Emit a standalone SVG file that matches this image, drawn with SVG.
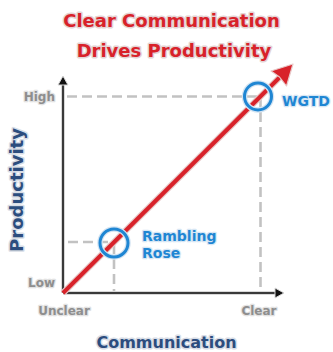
<svg xmlns="http://www.w3.org/2000/svg" width="333" height="352" viewBox="0 0 333 352">
<defs>
<style>
text{font-family:"DejaVu Sans","Verdana",sans-serif;font-weight:bold;paint-order:stroke;stroke-linejoin:round}
.title{font-size:18px;fill:#d8222a;stroke:#e4d4d4;stroke-width:3}
.axis-title{font-size:16px;fill:#2c4d7e;stroke:#d8dde6;stroke-width:3}
.tick{font-size:12px;fill:#8e8e8e;stroke:#e2e2e2;stroke-width:2.5}
.pt{font-size:14px;fill:#1f86d3;stroke:#d6e6f4;stroke-width:2.5}
.dash{fill:none;stroke:#c2c2c2;stroke-width:2.6;stroke-dasharray:10 5}
.axis-bg{stroke:#d8d8d8;stroke-width:4;fill:none}
.axis{stroke:#3a3a3a;stroke-width:2;fill:none}
.ring-bg{fill:none;stroke:#d4e4f2;stroke-width:5.5}
.ring{fill:none;stroke:#1f86d3;stroke-width:3}
</style>
</defs>
<g id="title">
<text class="title" x="171.5" y="27" text-anchor="middle">Clear Communication</text>
<text class="title" x="174" y="57" text-anchor="middle">Drives Productivity</text>
</g>
<g id="guides">
<line class="dash" x1="67" y1="96.5" x2="258" y2="96.5"/>
<line class="dash" x1="260.5" y1="97" x2="260.5" y2="291"/>
<line class="dash" x1="68" y1="242" x2="112" y2="242"/>
<line class="dash" x1="114" y1="244" x2="114" y2="291"/>
</g>
<g id="axes">
<path class="axis-bg" d="M63 293 V82 M63 293 H278"/>
<path class="axis" d="M63 293 V82 M63 293 H278"/>
<polygon points="63,76 58,85 68,85" fill="#111" stroke="#d8d8d8" stroke-width="1"/>
<polygon points="284,293 275,288 275,298" fill="#111" stroke="#d8d8d8" stroke-width="1"/>
</g>
<g id="connectors">
<line x1="63" y1="293" x2="281" y2="76" stroke="#e8c8c8" stroke-width="6.5"/>
<line x1="63" y1="293" x2="281" y2="76" stroke="#d8222a" stroke-width="4"/>
<polygon points="293,64 286.5,86 279.5,77 271,71" fill="#d8222a" stroke="#e8c8c8" stroke-width="1.2" stroke-linejoin="round"/>
</g>
<g id="wgtd">
<circle class="ring-bg" cx="258" cy="96.5" r="13.5"/>
<circle class="ring" cx="258" cy="96.5" r="13.5"/>
<text class="pt" x="282" y="106">WGTD</text>
</g>
<g id="rambling-rose">
<circle class="ring-bg" cx="114" cy="243" r="14"/>
<circle class="ring" cx="114" cy="243" r="14"/>
<text class="pt" x="142" y="241">Rambling</text>
<text class="pt" x="142" y="258">Rose</text>
</g>
<g id="labels">
<text class="tick" x="55" y="101" text-anchor="end">High</text>
<text class="tick" x="55" y="287" text-anchor="end">Low</text>
<text class="tick" x="64" y="315" text-anchor="middle">Unclear</text>
<text class="tick" x="259" y="315" text-anchor="middle">Clear</text>
<text class="axis-title" x="166.5" y="348" text-anchor="middle">Communication</text>
<text class="axis-title" transform="translate(23 190) rotate(-90)" x="0" y="0" text-anchor="middle" style="font-size:18px">Productivity</text>
</g>
</svg>
